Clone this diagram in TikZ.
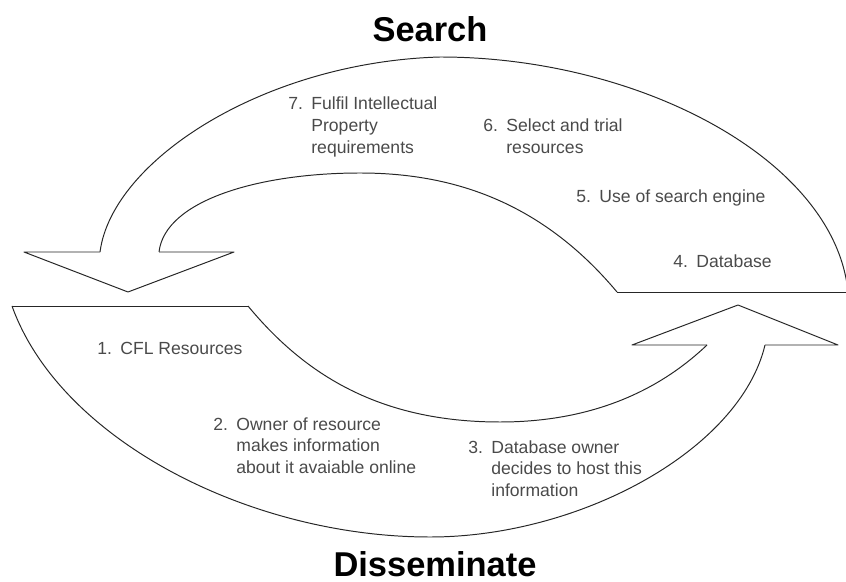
\documentclass[tikz,border=0pt]{standalone}
\usepackage{fontspec}
\setmainfont{Liberation Sans}
\usetikzlibrary{positioning}

\definecolor{stagegrey}{HTML}{4A4A4A}

% number with a hanging block of text
\newcommand{\stagelabel}[2]{%
  \begin{tabular}[t]{@{}l@{\hspace{6pt}}l@{}}#1 & \begin{tabular}[t]{@{}l@{}}#2\end{tabular}\end{tabular}}

\begin{document}
\begin{tikzpicture}[x=0.025cm, y=-0.025cm,
    band/.style={line width=0.7pt, draw=black!85, line join=round},
    stage/.style={anchor=base west, inner sep=0pt, text=stagegrey,
      font=\fontsize{12.5}{15.6}\selectfont},
    heading/.style={anchor=base, inner sep=0pt,
      font=\fontsize{24.5}{29}\selectfont\bfseries}]
    \useasboundingbox (0,0) rectangle (846,582);

    % Headings
    \node (search) [heading] at (430,42) {Search};
    \node (dissem) [heading] at (435,576) {Disseminate};

    % Upper arrow: Search
    \draw[band] (617,292) -- (848,292);
    \draw[band] (848,292) .. controls (835,160) and (640,57) .. (440,57)
                          .. controls (265,62) and (112,160) .. (100,252);
    \draw[band] (100,252) -- (24,252) -- (128,292) -- (234,252) -- (159,252);
    \draw[band] (159,252) .. controls (165,200) and (260,173) .. (360,173)
                          .. controls (450,173) and (540,200) .. (617,292);

    % Lower arrow: Disseminate
    \draw[band] (12,306) -- (248,306);
    \draw[band] (248,306) .. controls (305,375) and (380,422) .. (500,422)
                          .. controls (600,422) and (665,385) .. (707,345);
    \draw[band] (707,345) -- (632,345) -- (738,305) -- (838,345) -- (765,345);
    \draw[band] (765,345) .. controls (740,450) and (580,537) .. (430,537)
                          .. controls (250,537) and (60,440) .. (12,306);

    % Stages
    \node (s1) [stage] at (97,355) {\stagelabel{1.}{CFL Resources}};
    \node (s2) [stage] at (213,430) {\stagelabel{2.}{Owner of resource\\makes information\\about it avaiable online}};
    \node (s3) [stage] at (468,453) {\stagelabel{3.}{Database owner\\decides to host this\\information}};
    \node (s4) [stage] at (673,268) {\stagelabel{4.}{Database}};
    \node (s5) [stage] at (576,203) {\stagelabel{5.}{Use of search engine}};
    \node (s6) [stage] at (483,132) {\stagelabel{6.}{Select and trial\\resources}};
    \node (s7) [stage] at (288,110) {\stagelabel{7.}{Fulfil Intellectual\\Property\\requirements}};

\end{tikzpicture}
\end{document}
